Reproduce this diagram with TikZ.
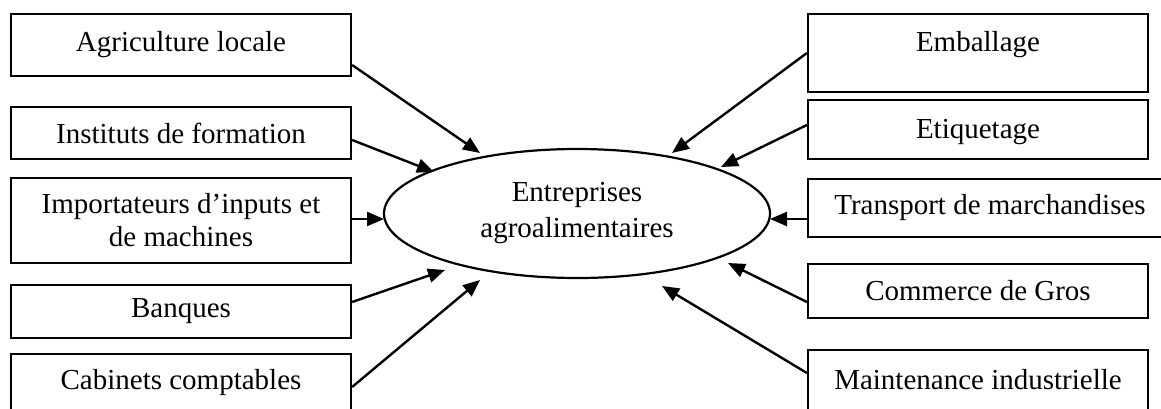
\documentclass[tikz,border=0pt]{standalone}
\usepackage{fontspec}
\setmainfont{Liberation Serif}
\usetikzlibrary{arrows.meta,shapes.geometric}
\begin{document}
\begin{tikzpicture}[x=1pt,y=-1pt,
  box/.style={draw,line width=2.2pt,rectangle,inner sep=0pt,align=center,
    font=\fontsize{29}{33}\selectfont},
  ell/.style={draw,line width=2.2pt,ellipse,inner sep=0pt,align=center,
    minimum width=386pt,minimum height=129pt,font=\fontsize{29}{36}\selectfont},
  arr/.style={line width=2.4pt,-{Triangle[length=17pt,width=14pt]}}]
\clip (0,0) rectangle (1161,409);
\fill[white] (0,0) rectangle (1161,409);
% left boxes
\node[box,minimum width=340pt,minimum height=62pt] (agr) at (181,45) {Agriculture locale};
\node[box,minimum width=340pt,minimum height=52pt] (ins) at (181,133) {Instituts de formation};
\node[box,minimum width=340pt,minimum height=85pt] (imp) at (181,220.5) {Importateurs d’inputs et\\de machines};
\node[box,minimum width=340pt,minimum height=53pt] (ban) at (181,311.5) {Banques};
\node[box,minimum width=340pt,minimum height=58pt] (cab) at (181,383) {Cabinets comptables};
% right boxes
\node[box,minimum width=340pt,minimum height=78pt,text depth=24pt] (emb) at (978,53) {Emballage};
\node[box,minimum width=340pt,minimum height=59pt,text depth=2pt] (eti) at (978,129.5) {Etiquetage};
\node[box,minimum width=364pt,minimum height=58pt] (tra) at (990,208) {Transport de marchandises};
\node[box,minimum width=340pt,minimum height=54pt] (com) at (978,291) {Commerce de Gros};
\node[box,minimum width=340pt,minimum height=60pt] (mai) at (978,380) {Maintenance industrielle};
% centre
\node[ell] (ent) at (577,213.5) {Entreprises\\agroalimentaires};
% arrow tips
\coordinate (t1) at (480,153);
\coordinate (t2) at (434,172);
\coordinate (t3) at (384,219);
\coordinate (t4) at (445,270);
\coordinate (t5) at (480,280);
\coordinate (t6) at (672,153);
\coordinate (t7) at (721,167);
\coordinate (t8) at (770,219);
\coordinate (t9) at (728,263);
\coordinate (t10) at (662,286);
% connectors
\draw[arr] ([yshift=-20pt]agr.east) -- (t1);
\draw[arr] ([yshift=-7pt]ins.east) -- (t2);
\draw[arr] ([yshift=1.5pt]imp.east) -- (t3);
\draw[arr] ([yshift=9.5pt]ban.east) -- (t4);
\draw[arr] ([yshift=-4pt]cab.east) -- (t5);
\draw[arr] (emb.west) -- (t6);
\draw[arr] ([yshift=4.5pt]eti.west) -- (t7);
\draw[arr] ([yshift=-11pt]tra.west) -- (t8);
\draw[arr] ([yshift=-11pt]com.west) -- (t9);
\draw[arr] ([yshift=7pt]mai.west) -- (t10);
\end{tikzpicture}
\end{document}
